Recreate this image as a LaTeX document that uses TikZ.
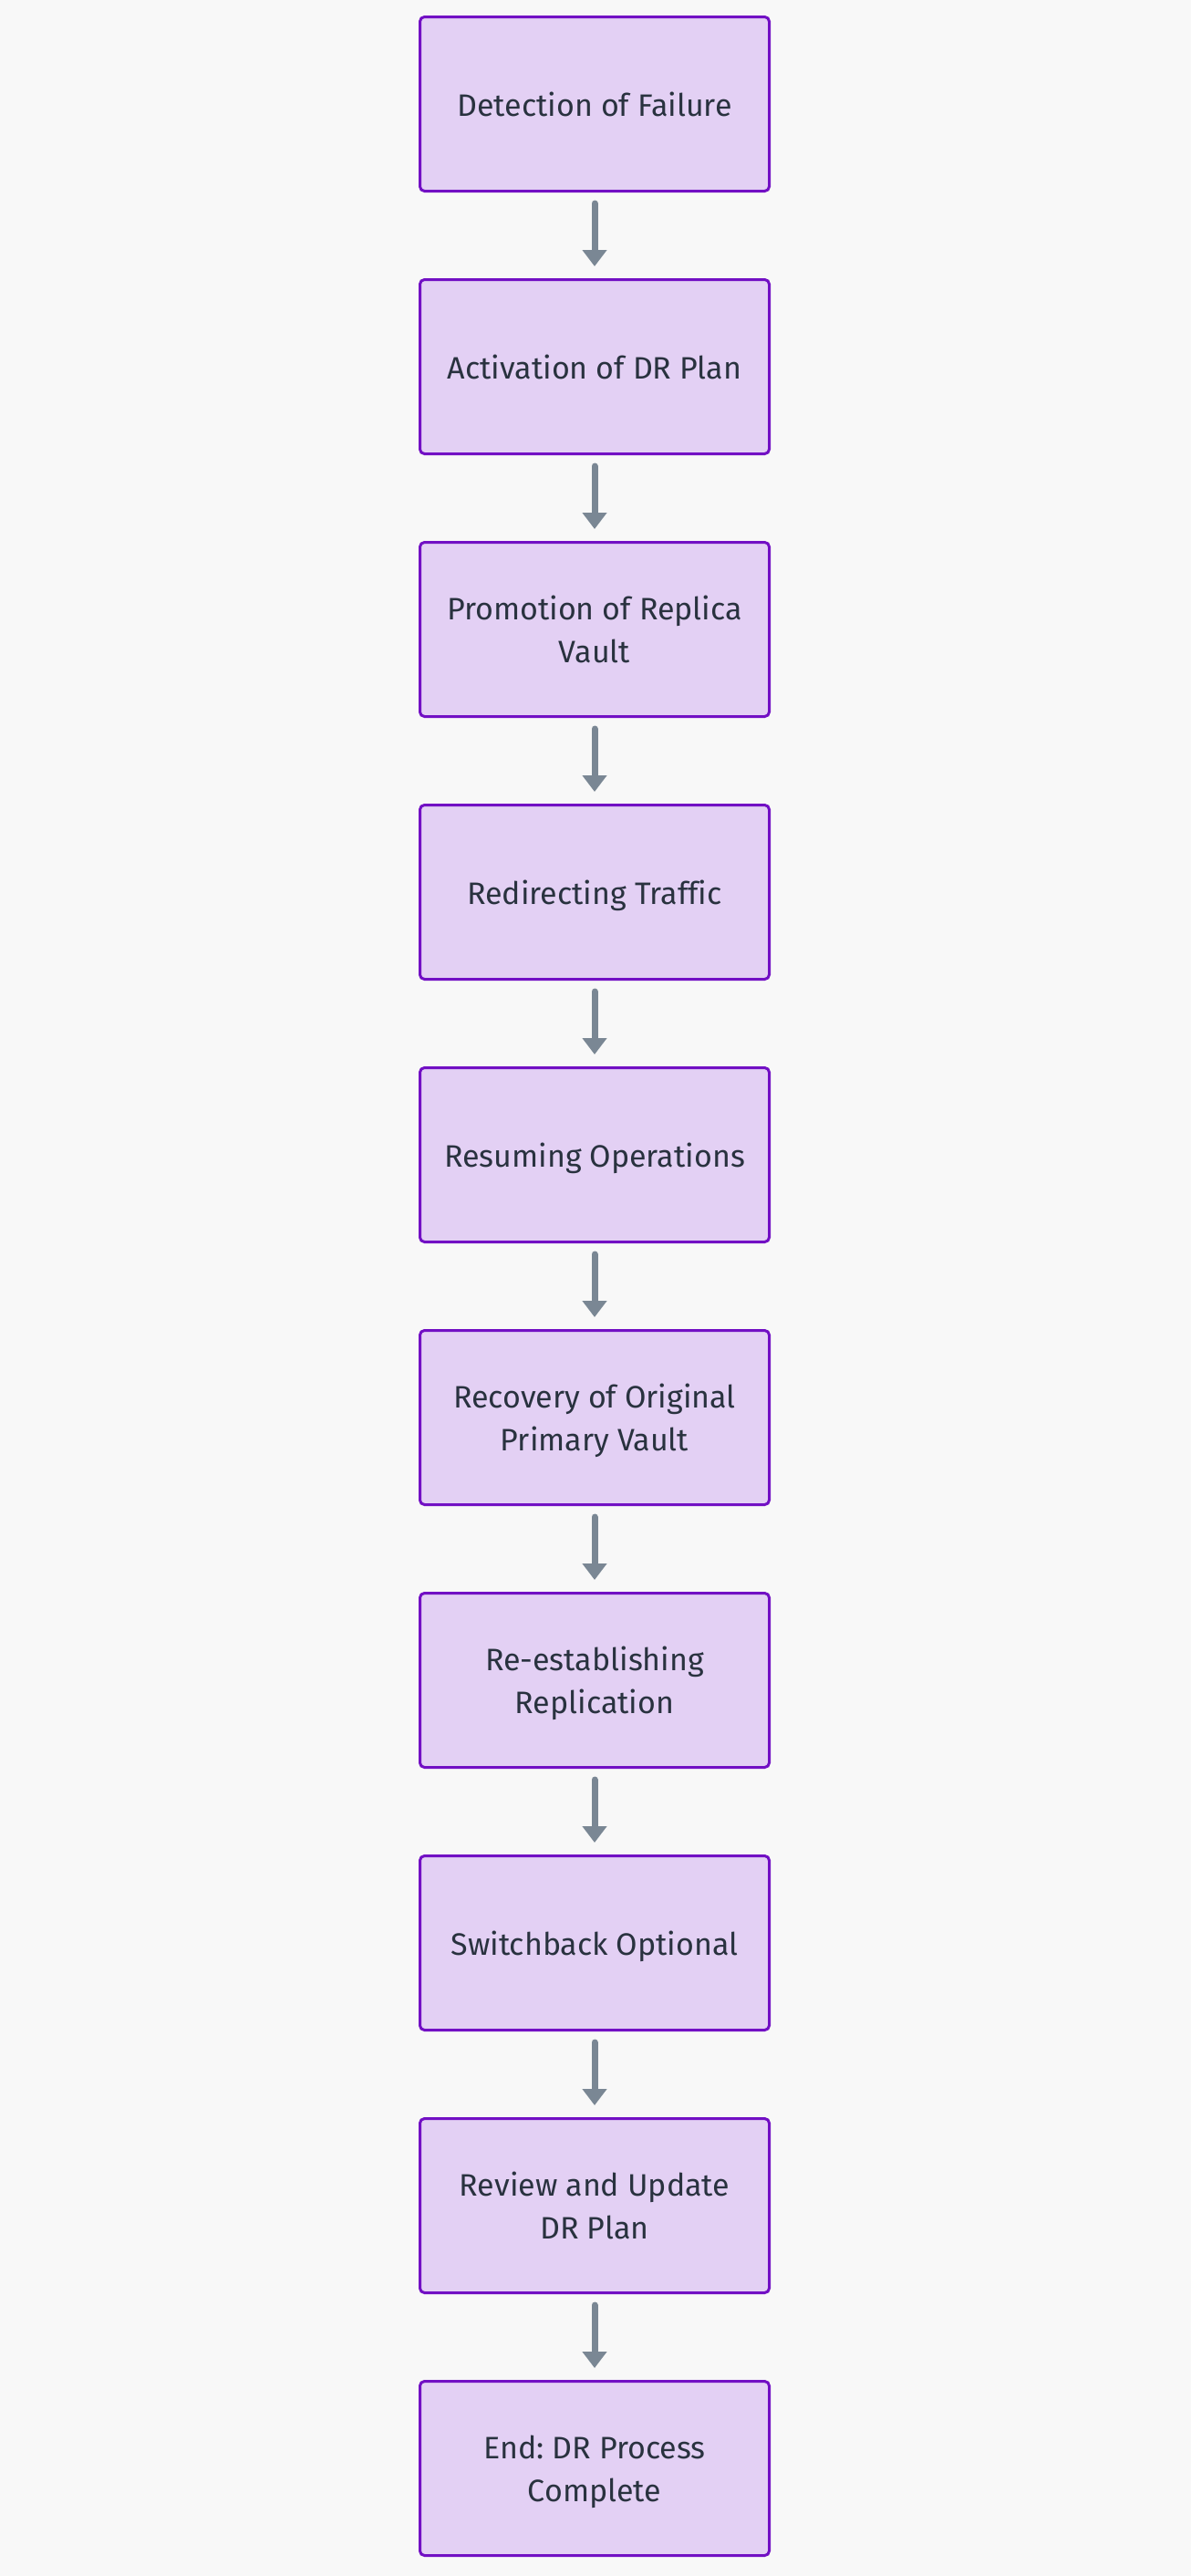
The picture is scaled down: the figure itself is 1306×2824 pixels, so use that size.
\documentclass[tikz,border=0pt]{standalone}
\usepackage{fontspec}
\setmainfont[Ligatures={NoCommon}]{Fira Sans}
\frenchspacing
\usetikzlibrary{arrows.meta}
\definecolor{bg}{HTML}{F8F8F8}
\definecolor{boxfill}{HTML}{E3D0F4}
\definecolor{boxdraw}{HTML}{7210C4}
\definecolor{arrowc}{HTML}{7A8794}
\definecolor{txt}{HTML}{29323F}
\tikzset{
  x=1pt, y=1pt,
  stepbox/.style={draw=boxdraw, fill=boxfill, line width=3pt, rounded corners=5pt,
    minimum width=383pt, minimum height=191pt, align=center, text=txt,
    font=\fontsize{34}{47}\selectfont, inner sep=0pt, text depth=0pt},
  flow/.style={draw=arrowc, line width=7pt, line cap=round,
    -{Triangle[width=26pt,length=18pt]}, shorten <=12pt, shorten >=13pt}
}
\begin{document}
\begin{tikzpicture}
\fill[bg] (0,0) rectangle (1306,-2824);
\useasboundingbox (0,0) rectangle (1306,-2824);
\node[stepbox] (n1) at (652,-114) {Detection of Failure};
\node[stepbox] (n2) at (652,-402) {Activation of DR Plan};
\node[stepbox] (n3) at (652,-690) {Promotion of Replica\\Vault};
\node[stepbox] (n4) at (652,-978) {Redirecting Traffic};
\node[stepbox] (n5) at (652,-1266) {Resuming Operations};
\node[stepbox] (n6) at (652,-1554) {Recovery of Original\\Primary Vault};
\node[stepbox] (n7) at (652,-1842) {Re-establishing\\Replication};
\node[stepbox] (n8) at (652,-2130) {Switchback Optional};
\node[stepbox] (n9) at (652,-2418) {Review and Update\\DR Plan};
\node[stepbox] (n10) at (652,-2706) {End: DR Process\\Complete};
\foreach \a/\b in {n1/n2,n2/n3,n3/n4,n4/n5,n5/n6,n6/n7,n7/n8,n8/n9,n9/n10}
  \draw[flow] (\a.south) -- (\b.north);
\end{tikzpicture}
\end{document}
